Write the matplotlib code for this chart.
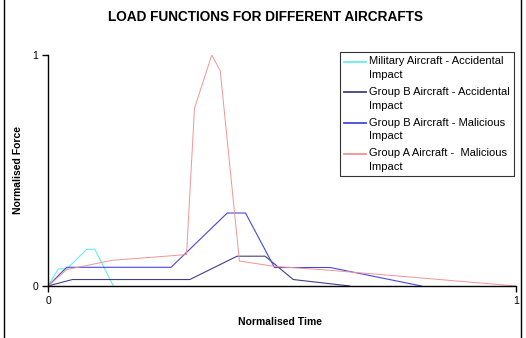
import matplotlib
matplotlib.use("Agg")
import matplotlib.pyplot as plt
from matplotlib.lines import Line2D
from matplotlib.legend_handler import HandlerLine2D

plt.rcParams['font.family'] = ['Liberation Sans', 'DejaVu Sans']

# Data (normalised time, normalised force)
mil_x = [0.0, 0.022, 0.040, 0.083, 0.100, 0.140]
mil_y = [0.0, 0.074, 0.074, 0.159, 0.159, 0.0]

gba_x = [0.0, 0.052, 0.303, 0.404, 0.464, 0.524, 0.645]
gba_y = [0.0, 0.028, 0.028, 0.129, 0.129, 0.028, 0.0]

gbm_x = [0.0, 0.040, 0.263, 0.383, 0.422, 0.484, 0.603, 0.798]
gbm_y = [0.0, 0.081, 0.081, 0.316, 0.316, 0.080, 0.080, 0.0]

gam_x = [0.0, 0.040, 0.136, 0.296, 0.313, 0.350, 0.368, 0.409, 0.484, 0.603, 1.0]
gam_y = [0.0, 0.071, 0.111, 0.136, 0.769, 1.0, 0.932, 0.108, 0.085, 0.068, 0.0]

labels = ["Military Aircraft - Accidental\nImpact",
          "Group B Aircraft - Accidental\nImpact",
          "Group B Aircraft - Malicious\nImpact",
          "Group A Aircraft -  Malicious\nImpact"]

title = "LOAD FUNCTIONS FOR DIFFERENT AIRCRAFTS"
xlabel = "Normalised Time"
ylabel = "Normalised Force"
ticks = [0, 1]


class TopHandler(HandlerLine2D):
    """Legend line aligned with the first text line."""
    def create_artists(self, *args, **kwargs):
        arts = super().create_artists(*args, **kwargs)
        for a in arts:
            a.set_ydata([v + 4.7 for v in a.get_ydata()])
        return arts


W, H = 526, 338
fig = plt.figure(figsize=(W / 100, H / 100), dpi=100)
ax = fig.add_axes([48 / W, 1 - 286 / H, 468 / W, 231 / H])

ax.plot(mil_x, mil_y, color='#66eef2', lw=0.8, label=labels[0])
ax.plot(gba_x, gba_y, color='#404088', lw=0.8, label=labels[1])
ax.plot(gbm_x, gbm_y, color='#4646e4', lw=0.8, label=labels[2])
ax.plot(gam_x, gam_y, color='#f29494', lw=0.7, label=labels[3])

ax.set_xlim(0, 1)
ax.set_ylim(0, 1)
ax.set_xticks(ticks)
ax.set_yticks(ticks)
ax.set_xticklabels([str(t) for t in ticks])
ax.set_yticklabels([str(t) for t in ticks])
ax.tick_params(direction='out', length=4, width=1, labelsize=7.5, pad=3)
for s in ['top', 'right']:
    ax.spines[s].set_visible(False)
for s in ['left', 'bottom']:
    ax.spines[s].set_color('black')
    ax.spines[s].set_linewidth(1)

fig.text(265 / W, 1 - 17 / H, title, ha='center', va='center',
         fontsize=9.8, fontweight='bold')
fig.text(280 / W, 1 - 322 / H, xlabel, ha='center', va='center',
         fontsize=7.5, fontweight='bold')
fig.text(18 / W, 1 - 170 / H, ylabel, ha='center', va='center',
         rotation=90, fontsize=7.5, fontweight='bold')

leg = fig.legend(loc='upper left', bbox_to_anchor=(340 / W, 1 - 52 / H),
                 fontsize=8, frameon=True, fancybox=False,
                 edgecolor='black', handlelength=1.9, handletextpad=0.3,
                 borderpad=0.4, labelspacing=0.63, borderaxespad=0,
                 handler_map={Line2D: TopHandler()})
leg.get_frame().set_linewidth(0.8)
for t in leg.get_texts():
    t.set_linespacing(1.45)
for h in leg.legend_handles:
    h.set_linewidth(1.3)

# outer chart border (left and right edges)
fig.add_artist(Line2D([3.5 / W, 3.5 / W], [0, 1], transform=fig.transFigure,
                      color='black', lw=1))
fig.add_artist(Line2D([521 / W, 521 / W], [0, 1], transform=fig.transFigure,
                      color='black', lw=1))

fig.savefig("out.png", dpi=100)
